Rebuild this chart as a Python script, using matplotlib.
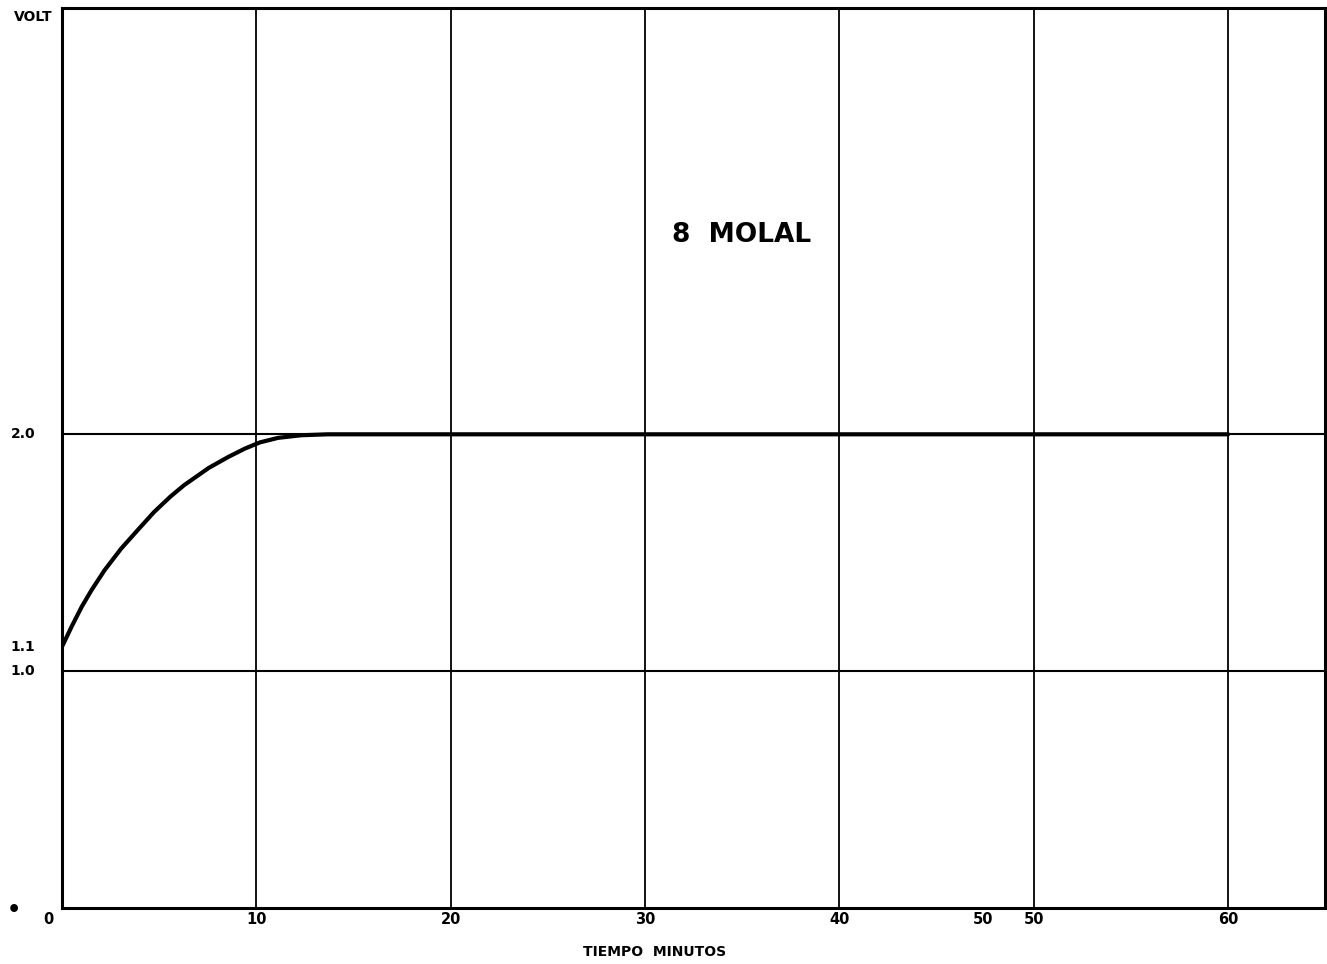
import numpy as np
import matplotlib.pyplot as plt
import matplotlib.transforms as mtransforms

plt.rcParams['font.family'] = ['DejaVu Sans']

# curva voltaje vs tiempo (8 molal)
tiempo = [0.0, 0.49, 1.01, 1.52, 2.19, 3.05, 3.89, 4.74, 5.58, 6.28,
          7.55, 8.57, 9.42, 10.19, 11.12, 12.3, 13.67, 20, 30, 40, 50, 60]
voltaje = [1.103, 1.187, 1.271, 1.342, 1.426, 1.518, 1.595, 1.672, 1.737,
           1.785, 1.858, 1.905, 1.940, 1.966, 1.985, 1.996, 2.0,
           2.0, 2.0, 2.0, 2.0, 2.0]

grid_x = [10, 20, 30, 40, 50, 60]
grid_y = [1.0, 2.0]
xlabels_pos = [-0.7, 10, 20, 30, 40, 47.4, 50, 60]
xlabels = ['0', '10', '20', '30', '40', '50', '50', '60']
ylabels_pos = [2.0, 1.1, 1.0]
ylabels = ['2.0', '1.1', '1.0']

fig = plt.figure(figsize=(13.27, 9.64), dpi=100)
ax = fig.add_axes([0.0467, 0.0581, 0.952, 0.9336])

ax.plot(tiempo, voltaje, color='black', lw=3, solid_capstyle='round',
        solid_joinstyle='round', zorder=3)

for gx in grid_x:
    ax.axvline(gx, color='black', lw=1.3, zorder=1)
for gy in grid_y:
    ax.axhline(gy, color='black', lw=1.5, zorder=1)

ax.set_xlim(0, 65)
ax.set_ylim(0, 3.8)
ax.set_xticks([])
ax.set_yticks([])
for s in ax.spines.values():
    s.set_linewidth(2.2)

trx = mtransforms.blended_transform_factory(ax.transData, ax.transAxes)
for p, l in zip(xlabels_pos, xlabels):
    ax.text(p, -0.0125, l, transform=trx, ha='center', va='center',
            fontsize=10.5, fontweight='bold')

try_ = mtransforms.blended_transform_factory(fig.transFigure, ax.transData)
for p, l in zip(ylabels_pos, ylabels):
    ax.text(23 / 1327, p, l, transform=try_, ha='center', va='center',
            fontsize=10, fontweight='bold')

fig.text(33 / 1327, 1 - 17 / 964, 'VOLT', ha='center', va='center',
         fontsize=10, fontweight='bold')
fig.text(14 / 1327, 1 - 910 / 964, '\u2022', ha='center', va='center',
         fontsize=16, fontweight='bold')

fig.text(655 / 1327, 1 - 952 / 964, 'TIEMPO  MINUTOS', ha='center', va='center',
         fontsize=10, fontweight='bold')
ax.text(742 / 1327, 1 - 235 / 964, '8  MOLAL', transform=fig.transFigure,
        ha='center', va='center', fontsize=19, fontweight='bold')

fig.savefig('out.png', dpi=100)
